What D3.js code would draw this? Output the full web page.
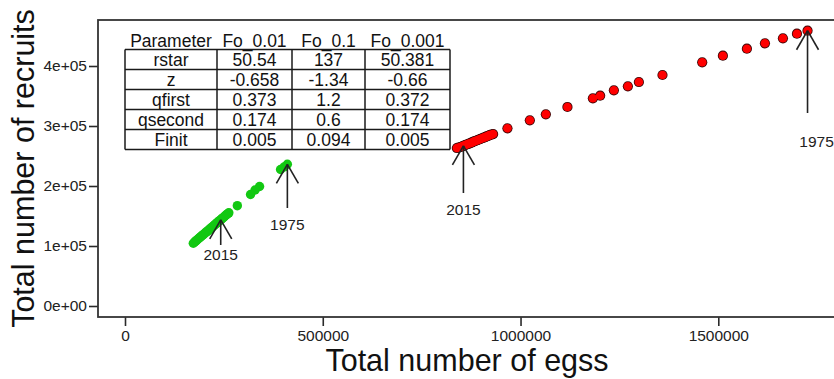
<!DOCTYPE html>
<html><head><meta charset="utf-8">
<script src="https://cdn.jsdelivr.net/npm/d3@7"></script>
<style>body{margin:0;background:#fff}svg{display:block;font-family:"Liberation Sans",Arial,sans-serif}</style>
</head><body><svg id="c" width="834" height="379"></svg>
<script>
// ---- data ----
const xTicks = [0, 500000, 1000000, 1500000];
const xTickLabels = ["0", "500000", "1000000", "1500000"];
const yTicks = [0, 100000, 200000, 300000, 400000];
const yTickLabels = ["0e+00", "1e+05", "2e+05", "3e+05", "4e+05"];

// Green series (Fo_0.1), chronological 1975 ... 2015
const greenEggs = [410500,402100,393300,340200,328800,317400,284000,
  262500,260500,257500,255000,252000,249500,246500,244000,
  239000,236500,233500,231000,228000,225500,222500,220000,217000,214500,211500,209000,206000,
  203500,200500,198000,195000,192500,189500,187000,184000,181500,178500,176000,172700,
  242000];
const greenRecruits = [236200,231700,227500,199200,193300,185800,167200,
  155300,154200,152600,151200,149500,148000,146400,145000,
  142200,140600,139000,137600,136000,134500,132800,131400,129800,128300,126600,125200,123600,
  122100,120500,119000,117500,116000,114300,112900,111300,109800,108200,106700,104500,
  143700];

// Red series (Fo_0.01 / Fo_0.001), chronological 1975 ... 2015
const redEggs = [1725600,1698800,1663400,1617900,1572300,1511600,1459300,1358900,1299200,1271400,
  1236000,1201300,1182900,1118600,1064000,1023500,966900,
  930700,926000,922000,918500,914000,911000,907000,903000,899000,895000,891500,887000,883000,
  879500,876000,872000,868000,864000,860000,853000,848000,843000,839000,
  855600];
const redRecruits = [458800,453800,446200,437800,428800,417200,406200,385000,373300,366200,
  359500,350500,346200,331700,319500,309500,296200,
  286600,285500,284800,283500,282600,281500,280600,279600,278400,277500,276300,275400,274300,
  273400,272200,271200,270300,269200,268300,266200,265000,263800,263300,
  267000];

// Year annotations: series, which point (first = 1975, last = 2015), arrow tail and label level
const annoSeries = ["green", "green", "red", "red"];
const annoLabels = ["1975", "2015", "1975", "2015"];
const annoTail = [163300, 101700, 321700, 188300];
const annoLabelY = [135000, 85000, 273300, 160000];

// Parameter table
const tableHeader = ["Parameter", "Fo_0.01", "Fo_0.1", "Fo_0.001"];
const tableParams = ["rstar", "z", "qfirst", "qsecond", "Finit"];
const colFo001 = ["50.54", "-0.658", "0.373", "0.174", "0.005"];
const colFo01 = ["137", "-1.34", "1.2", "0.6", "0.094"];
const colFo0001 = ["50.381", "-0.66", "0.372", "0.174", "0.005"];

const xTitle = "Total number of egss";
const yTitle = "Total number of recruits";

// ---- drawing ----
const svg = d3.select("#c");
const box = {left: 98, right: 836, top: 20, bottom: 317};
const x = d3.scaleLinear().domain([0, 1500000]).range([125, 718.3]);
const y = d3.scaleLinear().domain([0, 400000]).range([306, 66]);
const ink = "#2a2a2a";

// axes
const xa = svg.append("g").attr("transform", `translate(0,${box.bottom})`)
  .call(d3.axisBottom(x).tickValues(xTicks).tickFormat((d, i) => xTickLabels[i]).tickSize(9).tickPadding(4));
const ya = svg.append("g").attr("transform", `translate(${box.left},0)`)
  .call(d3.axisLeft(y).tickValues(yTicks).tickFormat((d, i) => yTickLabels[i]).tickSize(9).tickPadding(2));
[xa, ya].forEach(g => {
  g.select(".domain").remove();
  g.selectAll("line").attr("stroke", ink).attr("stroke-width", 1.6);
  g.selectAll("text").attr("fill", "#222").style("font-size", "15.5px").style("font-family", '"Liberation Sans",Arial,sans-serif');
});

// box
svg.append("rect").attr("x", box.left).attr("y", box.top)
  .attr("width", box.right - box.left).attr("height", box.bottom - box.top)
  .attr("fill", "none").attr("stroke", "#333").attr("stroke-width", 1.8);

// titles
svg.append("text").attr("x", (box.left + box.right) / 2).attr("y", 371)
  .attr("text-anchor", "middle").attr("fill", "#111").style("font-size", "30.5px").text(xTitle);
svg.append("text").attr("transform", `translate(34,${(box.top + box.bottom) / 2}) rotate(-90)`)
  .attr("text-anchor", "middle").attr("fill", "#111").style("font-size", "30.5px").text(yTitle);

// points
const green = greenEggs.map((e, i) => ({e, r: greenRecruits[i]}));
const red = redEggs.map((e, i) => ({e, r: redRecruits[i]}));
svg.append("g").selectAll("circle").data(green).join("circle")
  .attr("cx", d => x(d.e)).attr("cy", d => y(d.r)).attr("r", 4.7)
  .attr("fill", "#12c812");
// red points: dark rim layer, then red fill layer
svg.append("g").selectAll("circle").data(red).join("circle")
  .attr("cx", d => x(d.e)).attr("cy", d => y(d.r)).attr("r", 5.1)
  .attr("fill", "#3a0505");
svg.append("g").selectAll("circle").data(red).join("circle")
  .attr("cx", d => x(d.e)).attr("cy", d => y(d.r)).attr("r", 4.3)
  .attr("fill", "#ff0000");

// annotations
const seriesMap = {green, red};
const ag = svg.append("g");
annoSeries.forEach((s, i) => {
  const pts = seriesMap[s];
  const p = annoLabels[i] === "1975" ? pts[0] : pts[pts.length - 1];
  const px = x(p.e), tip = y(p.r), tail = y(annoTail[i]);
  const L = 22, a = Math.PI / 6;
  ag.append("line").attr("x1", px).attr("y1", tail).attr("x2", px).attr("y2", tip);
  ag.append("line").attr("x1", px).attr("y1", tip).attr("x2", px - L * Math.sin(a)).attr("y2", tip + L * Math.cos(a));
  ag.append("line").attr("x1", px).attr("y1", tip).attr("x2", px + L * Math.sin(a)).attr("y2", tip + L * Math.cos(a));
  ag.append("text").attr("x", px + (s === "red" && annoLabels[i] === "1975" ? 9 : 0)).attr("y", y(annoLabelY[i]))
    .attr("dy", "0.35em").attr("text-anchor", "middle").attr("fill", "#222")
    .style("font-size", "15.5px").text(annoLabels[i]);
});
ag.selectAll("line").attr("stroke", "#222").attr("stroke-width", 1.6);

// table
const colEdges = [125, 217, 292, 365, 450];
const rowTop = 49.5, rowH = 20;
const tg = svg.append("g").style("font-size", "17.5px").attr("fill", "#111");
tableHeader.forEach((h, c) => {
  tg.append("text").attr("x", (colEdges[c] + colEdges[c + 1]) / 2).attr("y", 46.5)
    .attr("text-anchor", "middle").text(h);
});
const cols = [tableParams, colFo001, colFo01, colFo0001];
tableParams.forEach((p, r) => {
  cols.forEach((col, c) => {
    tg.append("text").attr("x", (colEdges[c] + colEdges[c + 1]) / 2).attr("y", rowTop + r * rowH + 16.5)
      .attr("text-anchor", "middle").text(col[r]);
  });
});
const lg = svg.append("g").attr("stroke", "#1a1a1a").attr("stroke-width", 1.5);
d3.range(tableParams.length + 1).forEach(r => {
  lg.append("line").attr("x1", colEdges[0]).attr("x2", colEdges[colEdges.length - 1])
    .attr("y1", rowTop + r * rowH).attr("y2", rowTop + r * rowH);
});
colEdges.forEach(cx => {
  lg.append("line").attr("x1", cx).attr("x2", cx).attr("y1", rowTop).attr("y2", rowTop + tableParams.length * rowH);
});
</script></body></html>
